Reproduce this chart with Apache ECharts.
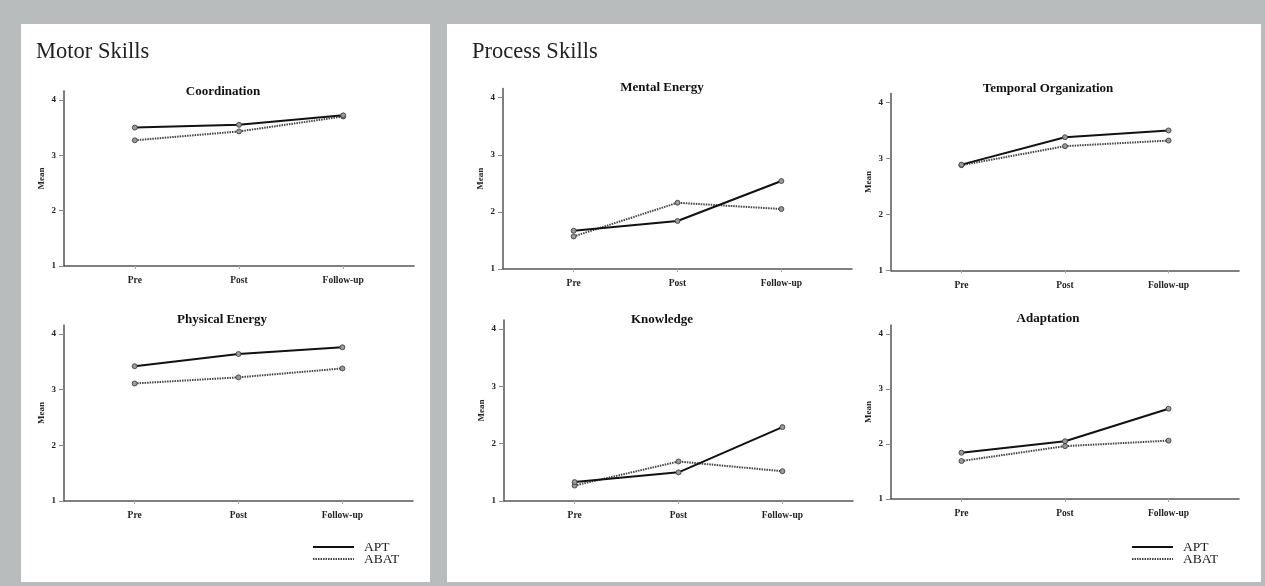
<!DOCTYPE html>
<html>
<head>
<meta charset="utf-8">
<script src="https://cdn.jsdelivr.net/npm/echarts@6/dist/echarts.min.js"></script>
<style>
  html, body { margin: 0; padding: 0; background: #b9bcbc; }
  #chart { width: 1265px; height: 586px; }
</style>
</head>
<body>
<div id="chart"></div>
<script>
// Measurement occasions and y-axis ticks
const occasions = ['Pre', 'Post', 'Follow-up'];
const yTicks = [1, 2, 3, 4];
const groupNames = ['APT', 'ABAT'];

// Mean scores per skill (APT / ABAT) at Pre, Post, Follow-up
const coordinationAPT = [3.50, 3.55, 3.72];
const coordinationABAT = [3.27, 3.43, 3.70];
const physicalEnergyAPT = [3.42, 3.64, 3.76];
const physicalEnergyABAT = [3.11, 3.22, 3.38];
const mentalEnergyAPT = [1.67, 1.84, 2.54];
const mentalEnergyABAT = [1.57, 2.16, 2.05];
const temporalOrgAPT = [2.89, 3.38, 3.50];
const temporalOrgABAT = [2.88, 3.22, 3.32];
const knowledgeAPT = [1.33, 1.50, 2.29];
const knowledgeABAT = [1.27, 1.69, 1.52];
const adaptationAPT = [1.84, 2.05, 2.64];
const adaptationABAT = [1.69, 1.96, 2.06];

const skillNames = ['Coordination', 'Physical Energy', 'Mental Energy',
                    'Temporal Organization', 'Knowledge', 'Adaptation'];
const aptSeries = [coordinationAPT, physicalEnergyAPT, mentalEnergyAPT,
                   temporalOrgAPT, knowledgeAPT, adaptationAPT];
const abatSeries = [coordinationABAT, physicalEnergyABAT, mentalEnergyABAT,
                    temporalOrgABAT, knowledgeABAT, adaptationABAT];

// Plot rectangles (pixels) and title positions for each small chart
const plots = [
  { left: 64,  top: 91,   width: 350, height: 175,   titleX: 223,  titleY: 85.5 },
  { left: 64,  top: 325,  width: 349, height: 176,   titleX: 222,  titleY: 313 },
  { left: 503, top: 88.5, width: 349, height: 180.5, titleX: 662,  titleY: 81.5 },
  { left: 891, top: 93.5, width: 348, height: 177,   titleX: 1048, titleY: 82 },
  { left: 504, top: 320,  width: 349, height: 181,   titleX: 662,  titleY: 313 },
  { left: 891, top: 325,  width: 348, height: 174,   titleX: 1048, titleY: 312 }
];

const SERIF = '"Liberation Serif", "Times New Roman", serif';
const AXIS_COLOR = '#555';

const grids = [], xAxes = [], yAxes = [], series = [], titles = [];

titles.push({ text: 'Motor Skills', left: 36, top: 41, padding: 0,
  textStyle: { fontFamily: SERIF, fontWeight: 'normal', fontSize: 22.5, color: '#222' } });
titles.push({ text: 'Process Skills', left: 472, top: 41, padding: 0,
  textStyle: { fontFamily: SERIF, fontWeight: 'normal', fontSize: 22.5, color: '#222' } });

plots.forEach((p, i) => {
  grids.push({ left: p.left, top: p.top, width: p.width, height: p.height, containLabel: false });
  titles.push({ text: skillNames[i], left: p.titleX, top: p.titleY, textAlign: 'center', padding: 0,
    textStyle: { fontFamily: SERIF, fontWeight: 'bold', fontSize: 13, color: '#111' } });
  xAxes.push({
    type: 'value', gridIndex: i, min: 0.32, max: 3.68,
    axisLine: { show: true, lineStyle: { color: AXIS_COLOR, width: 1.5 } },
    axisTick: { show: true, length: 3, customValues: [1, 2, 3], lineStyle: { color: '#aaa' } },
    axisLabel: { customValues: [1, 2, 3], margin: 10,
      formatter: v => occasions[Math.round(v) - 1],
      fontFamily: SERIF, fontWeight: 'bold', fontSize: 9.5, color: '#222' },
    splitLine: { show: false }
  });
  yAxes.push({
    type: 'value', gridIndex: i, min: 1, max: 4.16,
    name: 'Mean', nameLocation: 'middle', nameGap: 18, nameRotate: 90,
    nameTextStyle: { fontFamily: SERIF, fontWeight: 'bold', fontSize: 9, color: '#222' },
    axisLine: { show: true, lineStyle: { color: AXIS_COLOR, width: 1.5 } },
    axisTick: { show: true, length: 5, customValues: yTicks, lineStyle: { color: '#888' } },
    axisLabel: { customValues: yTicks, margin: 8,
      fontFamily: SERIF, fontWeight: 'bold', fontSize: 9, color: '#222' },
    splitLine: { show: false }
  });
  series.push({
    name: groupNames[0], type: 'line', xAxisIndex: i, yAxisIndex: i,
    data: aptSeries[i].map((v, k) => [k + 1, v]),
    symbol: 'circle', symbolSize: 5, z: 3,
    lineStyle: { color: '#111', width: 2 },
    itemStyle: { color: '#9a9a9a', borderColor: '#333', borderWidth: 0.8 }
  });
  series.push({
    name: groupNames[1], type: 'line', xAxisIndex: i, yAxisIndex: i,
    data: abatSeries[i].map((v, k) => [k + 1, v]),
    symbol: 'circle', symbolSize: 5, z: 2,
    lineStyle: { color: '#444', width: 2, type: [1.5, 1] },
    itemStyle: { color: '#9a9a9a', borderColor: '#333', borderWidth: 0.8 }
  });
});

// Two-row legends under each block
function legendAt(name, left, top) {
  return {
    data: [name], left: left, top: top, padding: 0,
    itemWidth: 41, itemHeight: 10, selectedMode: false,
    itemStyle: { opacity: 0 },
    textStyle: { fontFamily: SERIF, fontSize: 13.5, color: '#222', padding: [0, 0, 0, 5] }
  };
}
const legends = [
  legendAt('APT', 312, 540), legendAt('ABAT', 312, 552),
  legendAt('APT', 1131, 540), legendAt('ABAT', 1131, 552)
];

const chart = echarts.init(document.getElementById('chart'), null, { renderer: 'canvas' });
chart.setOption({
  backgroundColor: '#b9bcbc',
  animation: false,
  graphic: [
    { type: 'rect', shape: { x: 21, y: 24, width: 409, height: 558 }, style: { fill: '#fff' }, z: -10 },
    { type: 'rect', shape: { x: 447, y: 24, width: 814, height: 558 }, style: { fill: '#fff' }, z: -10 }
  ],
  title: titles,
  legend: legends,
  grid: grids,
  xAxis: xAxes,
  yAxis: yAxes,
  series: series
});
</script>
</body>
</html>
